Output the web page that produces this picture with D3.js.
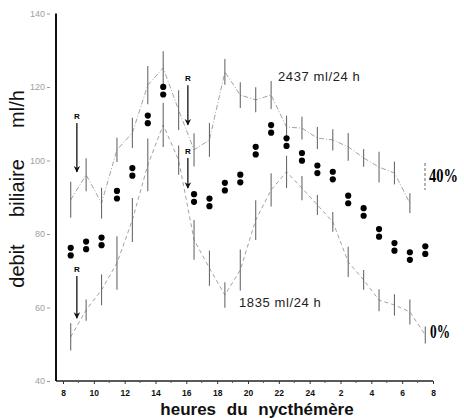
<!DOCTYPE html>
<html>
<head>
<meta charset="utf-8">
<script src="https://cdn.jsdelivr.net/npm/d3@7"></script>
<style>
body { margin: 0; background: #fff; }
svg { display: block; background: #fff; }
</style>
</head>
<body>
<script>
// hours of the nycthemere (8h day 1 -> 8h day 2, 24 = midnight)
var hours = [8.5, 9.5, 10.5, 11.5, 12.5, 13.5, 14.5, 15.5, 16.5, 17.5, 18.5, 19.5,
             20.5, 21.5, 22.5, 23.5, 24.5, 25.5, 26.5, 27.5, 28.5, 29.5, 30.5, 31.5];

// mean debit (pairs of dots)
var meanBile = [75.2, 76.9, 78.0, 90.7, 96.9, 111.2, 119.0, null, 89.8, 88.6, 92.9, 95.1,
                102.7, 108.6, 105.0, 101.0, 97.6, 95.9, 89.4, 86.0, 80.3, 76.5, 74.0, 75.6];

// 40% curve, 2437 ml/24 h
var upper40 = [89.3, 96.1, 88.4, 102.9, 107.5, 120.5, 125.2, 113.7, 102.9, 105.6, 124.1, 117.8,
               116.5, 117.8, 109.1, 108.8, 106.1, 105.6, 103.7, 100.7, 98.2, 96.6, 88.4, null];
var upperErr = [4.9, 4.5, 4.2, 3.3, 4.1, 5.2, 4.5, 5.4, 4.5, 4.6, 3.5, 3.5,
                3.4, 3.8, 3.1, 3.1, 3.0, 2.9, 3.8, 2.4, 4.2, 3.1, 2.7, null];

// 0% curve, 1835 ml/24 h
var lower0 = [52.0, 59.3, 64.8, 72.1, 83.8, 98.8, 109.7, 100.1, 78.4, 70.7, 63.4, 70.2,
              83.8, 92.0, 96.9, 92.5, 87.9, 83.3, 72.4, 67.5, 62.0, 60.7, 58.8, 52.5];
var lowerErr = [3.7, 2.9, 4.2, 7.3, 6.0, 7.2, 6.0, 4.0, 5.4, 4.8, 3.5, 5.6,
                5.4, 4.5, 4.4, 3.3, 2.7, 2.7, 4.1, 2.7, 3.0, 2.9, 3.4, 2.3];

// meals (R)
var mealHours = [8.9, 8.9, 16.1, 16.1];
var mealFrom = [110.2, 68.6, 120.5, 100.7];
var mealTo = [96.9, 57.1, 109.7, 92.5];

var xTicks = [8, 10, 12, 14, 16, 18, 20, 22, 24, 26, 28, 30, 32];
var yTicks = [40, 60, 80, 100, 120, 140];

var width = 464, height = 418;

var svg = d3.select("body").append("svg")
    .attr("width", width)
    .attr("height", height);

var x = d3.scaleLinear().domain([8, 32]).range([63, 433]);
var y = d3.scaleLinear().domain([40, 140]).range([381, 13.5]);

// x axis
svg.append("line")
    .attr("x1", 56).attr("x2", 433)
    .attr("y1", y(40)).attr("y2", y(40))
    .attr("stroke", "#222").attr("stroke-width", 1.5);

var xAxis = svg.append("g")
    .attr("transform", "translate(0," + y(40) + ")")
    .call(d3.axisBottom(x)
        .tickValues(xTicks)
        .tickSize(3)
        .tickPadding(6)
        .tickFormat(function(h) { return h > 24 ? h - 24 : h; }));
xAxis.select(".domain").remove();
xAxis.selectAll("text")
    .style("font-family", "Liberation Sans, Arial, sans-serif")
    .style("font-size", "8.5px")
    .style("font-weight", "bold")
    .attr("fill", "#111");
xAxis.selectAll("line").attr("stroke", "#333");

svg.append("g")
    .selectAll("line")
    .data(d3.range(9, 32, 2))
    .enter().append("line")
    .attr("x1", function(d) { return x(d); })
    .attr("x2", function(d) { return x(d); })
    .attr("y1", y(40)).attr("y2", y(40) + 2)
    .attr("stroke", "#555");

// y axis
svg.append("line")
    .attr("x1", 56).attr("x2", 56)
    .attr("y1", y(140)).attr("y2", y(40))
    .attr("stroke", "#111").attr("stroke-width", 2);

var yAxis = svg.append("g")
    .attr("transform", "translate(50,0)")
    .call(d3.axisLeft(y)
        .tickValues(yTicks)
        .tickSize(3)
        .tickPadding(2));
yAxis.select(".domain").remove();
yAxis.selectAll("line").attr("stroke", "#999");
yAxis.selectAll("text")
    .style("font-family", "Liberation Sans, Arial, sans-serif")
    .style("font-size", "9px")
    .attr("fill", "#a0a0a0");

// curves
function curveData(vals, errs) {
    return hours.map(function(h, i) {
        return { h: h, v: vals[i], e: errs[i] };
    }).filter(function(d) { return d.v != null; });
}

var upperData = curveData(upper40, upperErr);
var lowerData = curveData(lower0, lowerErr);

var line = d3.line()
    .x(function(d) { return x(d.h); })
    .y(function(d) { return y(d.v); });

[upperData, lowerData].forEach(function(data, k) {
    svg.append("path")
        .datum(data)
        .attr("d", line)
        .attr("fill", "none")
        .attr("stroke", "#8a8a8a")
        .attr("stroke-width", 0.8)
        .attr("stroke-dasharray", k == 0 ? "5,2,1,2" : "4,3");

    svg.append("g")
        .selectAll("line")
        .data(data)
        .enter().append("line")
        .attr("x1", function(d) { return x(d.h); })
        .attr("x2", function(d) { return x(d.h); })
        .attr("y1", function(d) { return y(d.v - d.e); })
        .attr("y2", function(d) { return y(d.v + d.e); })
        .attr("stroke", "#6a6a6a")
        .attr("stroke-width", 1.1);
});

// mean dots, drawn as a pair
var dots = hours.map(function(h, i) { return { h: h, v: meanBile[i] }; })
    .filter(function(d) { return d.v != null; });

var dotG = svg.append("g");
[-3.8, 3.8].forEach(function(off) {
    dotG.selectAll(null)
        .data(dots)
        .enter().append("circle")
        .attr("cx", function(d) { return x(d.h); })
        .attr("cy", function(d) { return y(d.v) + off; })
        .attr("r", 3.1)
        .attr("fill", "#000");
});

// meal arrows
svg.append("defs").append("marker")
    .attr("id", "head")
    .attr("viewBox", "0 0 10 10")
    .attr("refX", 9).attr("refY", 5)
    .attr("markerWidth", 5).attr("markerHeight", 6)
    .attr("orient", "auto")
    .append("path")
    .attr("d", "M0,0L10,5L0,10L3,5Z")
    .attr("fill", "#111");

var meals = mealHours.map(function(h, i) { return { h: h, a: mealFrom[i], b: mealTo[i] }; });

svg.append("g").selectAll("line")
    .data(meals)
    .enter().append("line")
    .attr("x1", function(d) { return x(d.h); })
    .attr("x2", function(d) { return x(d.h); })
    .attr("y1", function(d) { return y(d.a); })
    .attr("y2", function(d) { return y(d.b); })
    .attr("stroke", "#111")
    .attr("stroke-width", 1.3)
    .attr("marker-end", "url(#head)");

svg.append("g").selectAll("text")
    .data(meals)
    .enter().append("text")
    .attr("x", function(d) { return x(d.h); })
    .attr("y", function(d) { return y(d.a) - 4; })
    .attr("text-anchor", "middle")
    .style("font-family", "Liberation Sans, Arial, sans-serif")
    .style("font-size", "8px")
    .style("font-weight", "bold")
    .text("R");

// annotations
svg.append("text")
    .attr("x", 278).attr("y", 81)
    .style("font-family", "Liberation Sans, Arial, sans-serif")
    .style("font-size", "13px")
    .style("letter-spacing", "0.6px")
    .attr("fill", "#222")
    .text("2437 ml/24 h");

svg.append("text")
    .attr("x", 239).attr("y", 307)
    .style("font-family", "Liberation Sans, Arial, sans-serif")
    .style("font-size", "13px")
    .style("letter-spacing", "0.6px")
    .attr("fill", "#222")
    .text("1835 ml/24 h");

svg.append("line")
    .attr("x1", 425).attr("x2", 425)
    .attr("y1", 163).attr("y2", 190)
    .attr("stroke", "#666").attr("stroke-dasharray", "3,2");

svg.append("text")
    .attr("x", 429).attr("y", 182)
    .attr("textLength", 29)
    .attr("lengthAdjust", "spacingAndGlyphs")
    .style("font-family", "Liberation Serif, Times New Roman, serif")
    .style("font-size", "18px")
    .style("font-weight", "bold")
    .text("40%");

svg.append("text")
    .attr("x", 430).attr("y", 338)
    .attr("textLength", 20)
    .attr("lengthAdjust", "spacingAndGlyphs")
    .style("font-family", "Liberation Serif, Times New Roman, serif")
    .style("font-size", "18px")
    .style("font-weight", "bold")
    .text("0%");

// axis titles
var yTitle = [["debit", 266], ["biliaire", 188], ["ml/h", 109]];
svg.append("g").selectAll("text")
    .data(yTitle)
    .enter().append("text")
    .attr("transform", function(d) { return "translate(24," + d[1] + ")rotate(-90)"; })
    .attr("text-anchor", "middle")
    .style("font-family", "Liberation Sans, Arial, sans-serif")
    .style("font-size", "20px")
    .attr("fill", "#111")
    .text(function(d) { return d[0]; });

svg.append("text")
    .attr("x", 257).attr("y", 415)
    .attr("text-anchor", "middle")
    .style("font-family", "Liberation Sans, Arial, sans-serif")
    .style("font-size", "17px")
    .style("font-weight", "bold")
    .style("word-spacing", "6px")
    .attr("fill", "#111")
    .text("heures du nycthémère");
</script>
</body>
</html>
